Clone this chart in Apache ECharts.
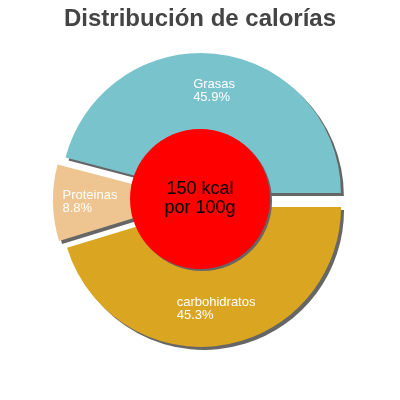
<!DOCTYPE html>
<html>
<head>
<meta charset="utf-8">
<script src="https://cdn.jsdelivr.net/npm/echarts@6/dist/echarts.min.js"></script>
<style>
html,body{margin:0;padding:0;background:#fff;}
#chart{width:400px;height:400px;}
</style>
</head>
<body>
<div id="chart"></div>
<script>
const titleText = 'Distribución de calorías';
const categories = ['Grasas', 'Proteinas', 'carbohidratos'];
const percentages = [45.9, 8.8, 45.3];
const centerLines = ['150 kcal', 'por 100g'];
const sliceColors = ['#79c3cc', '#eec591', '#daa520'];

const FONT = '"Liberation Sans", Arial, sans-serif';
const LABEL_SIZE = 13;
const cv = document.createElement('canvas').getContext('2d');
cv.font = LABEL_SIZE + 'px ' + FONT;
function textW(s) { return Math.ceil(cv.measureText(s).width); }

const chart = echarts.init(document.getElementById('chart'), null, {renderer: 'canvas'});

const pieData = categories.map((name, i) => {
  const pct = percentages[i].toFixed(1) + '%';
  const w = Math.max(textW(name), textW(pct));
  return {
    name: name,
    value: percentages[i],
    selected: true,
    itemStyle: {color: sliceColors[i]},
    label: {
      formatter: '{a|' + name + '}\n{a|' + pct + '}',
      rich: {a: {width: w, align: 'left', color: '#fff', fontSize: LABEL_SIZE, lineHeight: 13, fontFamily: FONT}},
      offset: name === 'Proteinas' ? [-12, 0] : [0, 0]
    }
  };
});

chart.setOption({
  animation: false,
  title: {
    text: titleText,
    left: 'center',
    top: 2,
    textStyle: {fontSize: 24, fontWeight: 'bold', color: '#444', fontFamily: FONT}
  },
  series: [
    {
      type: 'pie',
      center: [200, 200],
      radius: [60, 140],
      startAngle: 0,
      clockwise: false,
      selectedMode: 'multiple',
      selectedOffset: 7,
      avoidLabelOverlap: false,
      emphasis: {disabled: true},
      itemStyle: {shadowColor: '#666', shadowOffsetX: 3, shadowOffsetY: 3, shadowBlur: 0},
      label: {show: true, position: 'inside', color: '#fff', fontSize: LABEL_SIZE, fontFamily: FONT},
      labelLine: {show: false},
      data: pieData
    },
    {
      type: 'pie',
      center: [200, 199],
      radius: [0, 70],
      silent: true,
      emphasis: {disabled: true},
      itemStyle: {color: '#ff0000', shadowColor: '#666', shadowOffsetX: 2, shadowOffsetY: 2, shadowBlur: 0},
      label: {
        show: true, position: 'center', color: '#000', fontSize: 18, lineHeight: 19, fontFamily: FONT,
        formatter: centerLines.join('\n')
      },
      labelLine: {show: false},
      data: [{name: 'total', value: 1}]
    }
  ]
});
</script>
</body>
</html>
